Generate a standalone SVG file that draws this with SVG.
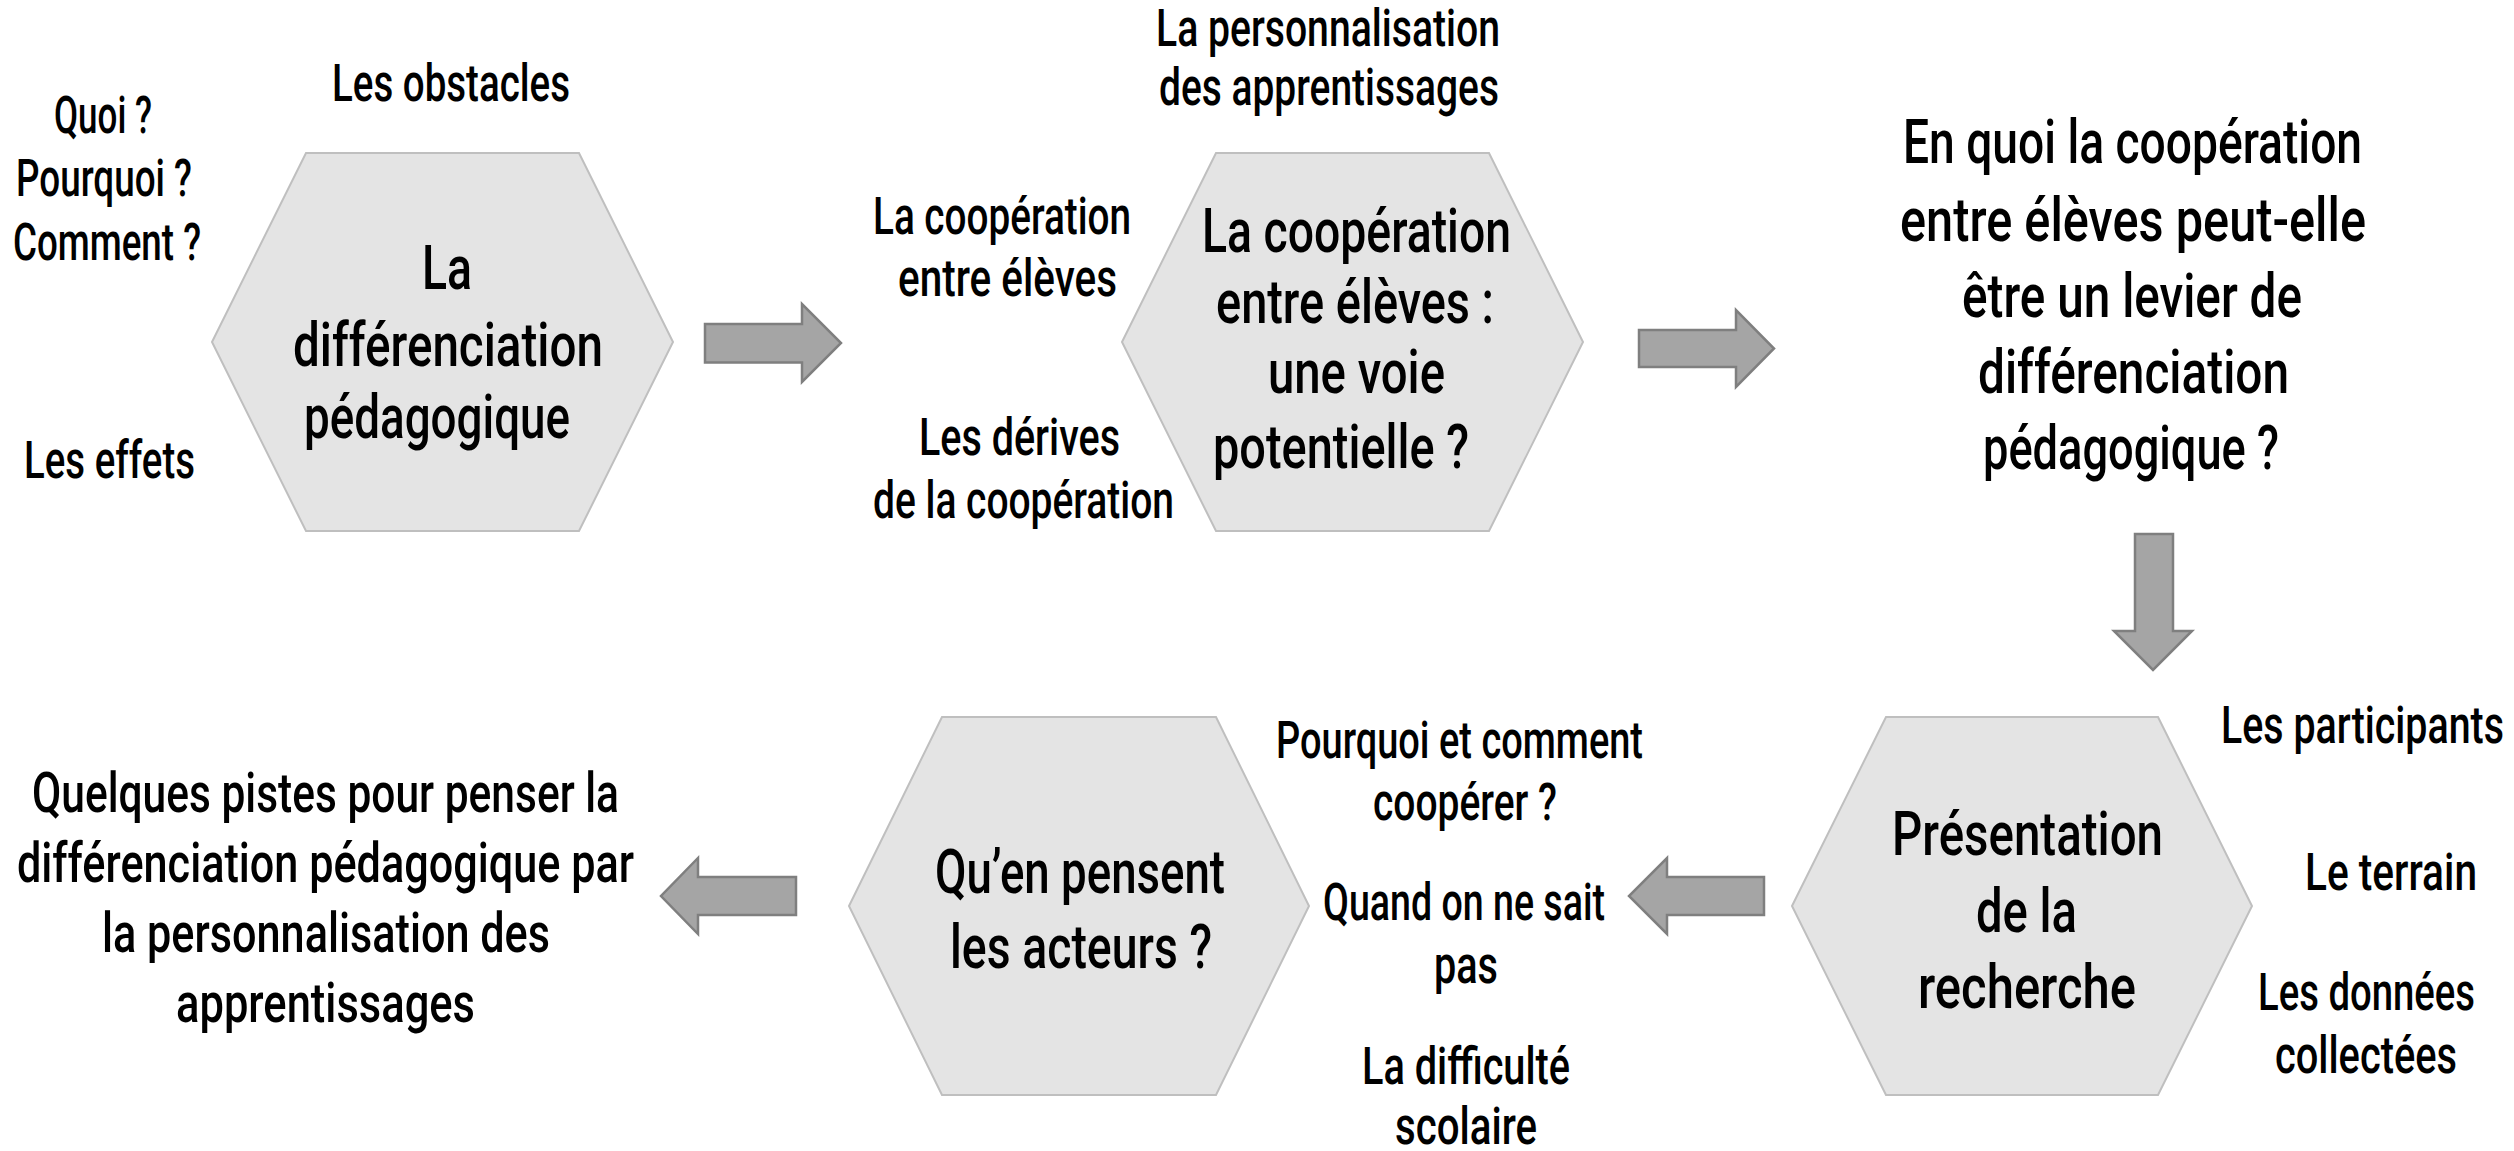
<svg xmlns="http://www.w3.org/2000/svg" width="2514" height="1151" viewBox="0 0 2514 1151">
<style>
.hex{fill:#E4E4E4;stroke:#BFBFBF;stroke-width:2}
.arr{fill:#A5A5A5;stroke:#7F7F7F;stroke-width:2.5}
text{font-family:Roboto,"Liberation Sans",sans-serif;font-weight:500;fill:#000}
.s{font-size:51px}
.m{font-size:56px}
.l{font-size:61px}
.e{text-anchor:end}
</style>
<rect width="2514" height="1151" fill="#fff"/>
<g id="connectors">
<path class="arr" d="M705,324 H802 V304 L841,343 L802,382 V362.5 H705 Z"/>
<path class="arr" d="M1639,330 H1736 V310 L1774,348.5 L1736,387 V367 H1639 Z"/>
<path class="arr" d="M2135,534 V631 H2114 L2153,670 L2192,631 H2173 V534 Z"/>
<path class="arr" d="M1764,877 H1667 V858 L1629,896 L1667,934 V915 H1764 Z"/>
<path class="arr" d="M796,877 H698 V858 L661,896 L698,934 V915 H796 Z"/>
</g>
<g id="node-differenciation">
<polygon class="hex" points="212,342 306,153 579,153 673,342 579,531 306,531"/>
<text class="l" x="422" y="289" textLength="50" lengthAdjust="spacingAndGlyphs">La</text>
<text class="l" x="293" y="366" textLength="310" lengthAdjust="spacingAndGlyphs">différenciation</text>
<text class="l" x="304" y="438" textLength="266" lengthAdjust="spacingAndGlyphs">pédagogique</text>
</g>
<g id="labels-differenciation">
<text class="s" x="54" y="133" textLength="98" lengthAdjust="spacingAndGlyphs">Quoi ?</text>
<text class="s" x="16" y="196" textLength="176" lengthAdjust="spacingAndGlyphs">Pourquoi ?</text>
<text class="s" x="13" y="260" textLength="188" lengthAdjust="spacingAndGlyphs">Comment ?</text>
<text class="s" x="332" y="101" textLength="238" lengthAdjust="spacingAndGlyphs">Les obstacles</text>
<text class="s" x="24" y="478" textLength="171" lengthAdjust="spacingAndGlyphs">Les effets</text>
</g>
<g id="node-cooperation">
<polygon class="hex" points="1122,342 1216,153 1489,153 1583,342 1489,531 1216,531"/>
<text class="l" x="1202" y="252" textLength="309" lengthAdjust="spacingAndGlyphs">La coopération</text>
<text class="l" x="1216" y="323" textLength="278" lengthAdjust="spacingAndGlyphs">entre élèves :</text>
<text class="l" x="1268" y="393" textLength="177" lengthAdjust="spacingAndGlyphs">une voie</text>
<text class="l" x="1213" y="468" textLength="256" lengthAdjust="spacingAndGlyphs">potentielle ?</text>
</g>
<g id="labels-cooperation">
<text class="s" x="1156" y="46" textLength="344" lengthAdjust="spacingAndGlyphs">La personnalisation</text>
<text class="s" x="1159" y="105" textLength="340" lengthAdjust="spacingAndGlyphs">des apprentissages</text>
<text class="s" x="873" y="234" textLength="258" lengthAdjust="spacingAndGlyphs">La coopération</text>
<text class="s" x="898" y="296" textLength="219" lengthAdjust="spacingAndGlyphs">entre élèves</text>
<text class="s" x="919" y="455" textLength="201" lengthAdjust="spacingAndGlyphs">Les dérives</text>
<text class="s" x="873" y="518" textLength="301" lengthAdjust="spacingAndGlyphs">de la coopération</text>
</g>
<g id="node-question">
<text class="l" x="1903" y="163" textLength="459" lengthAdjust="spacingAndGlyphs">En quoi la coopération</text>
<text class="l" x="1900" y="241" textLength="466" lengthAdjust="spacingAndGlyphs">entre élèves peut-elle</text>
<text class="l" x="1962" y="317" textLength="340" lengthAdjust="spacingAndGlyphs">être un levier de</text>
<text class="l" x="1978" y="393" textLength="311" lengthAdjust="spacingAndGlyphs">différenciation</text>
<text class="l" x="1983" y="469" textLength="296" lengthAdjust="spacingAndGlyphs">pédagogique ?</text>
</g>
<g id="node-recherche">
<polygon class="hex" points="1792,906 1886,717 2158,717 2252,906 2158,1095 1886,1095"/>
<text class="l" x="1892" y="855" textLength="271" lengthAdjust="spacingAndGlyphs">Présentation</text>
<text class="l" x="1976" y="932" textLength="101" lengthAdjust="spacingAndGlyphs">de la</text>
<text class="l" x="1918" y="1008" textLength="218" lengthAdjust="spacingAndGlyphs">recherche</text>
</g>
<g id="labels-recherche">
<text class="s e" x="2504" y="743" textLength="283" lengthAdjust="spacingAndGlyphs">Les participants</text>
<text class="s e" x="2477" y="890" textLength="172" lengthAdjust="spacingAndGlyphs">Le terrain</text>
<text class="s e" x="2475" y="1010" textLength="217" lengthAdjust="spacingAndGlyphs">Les données</text>
<text class="s e" x="2457" y="1073" textLength="182" lengthAdjust="spacingAndGlyphs">collectées</text>
</g>
<g id="node-acteurs">
<polygon class="hex" points="849,906 942,717 1216,717 1309,906 1216,1095 942,1095"/>
<text class="l" x="935" y="893" textLength="290" lengthAdjust="spacingAndGlyphs">Qu’en pensent</text>
<text class="l" x="950" y="968" textLength="262" lengthAdjust="spacingAndGlyphs">les acteurs ?</text>
</g>
<g id="labels-acteurs">
<text class="s" x="1276" y="758" textLength="367" lengthAdjust="spacingAndGlyphs">Pourquoi et comment</text>
<text class="s" x="1373" y="820" textLength="184" lengthAdjust="spacingAndGlyphs">coopérer ?</text>
<text class="s" x="1323" y="920" textLength="282" lengthAdjust="spacingAndGlyphs">Quand on ne sait</text>
<text class="s" x="1434" y="983" textLength="64" lengthAdjust="spacingAndGlyphs">pas</text>
<text class="s" x="1362" y="1084" textLength="208" lengthAdjust="spacingAndGlyphs">La difficulté</text>
<text class="s" x="1395" y="1144" textLength="142" lengthAdjust="spacingAndGlyphs">scolaire</text>
</g>
<g id="node-pistes">
<text class="m" x="32" y="812" textLength="587" lengthAdjust="spacingAndGlyphs">Quelques pistes pour penser la</text>
<text class="m" x="17" y="882" textLength="617" lengthAdjust="spacingAndGlyphs">différenciation pédagogique par</text>
<text class="m" x="102" y="952" textLength="448" lengthAdjust="spacingAndGlyphs">la personnalisation des</text>
<text class="m" x="176" y="1022" textLength="299" lengthAdjust="spacingAndGlyphs">apprentissages</text>
</g>
</svg>
